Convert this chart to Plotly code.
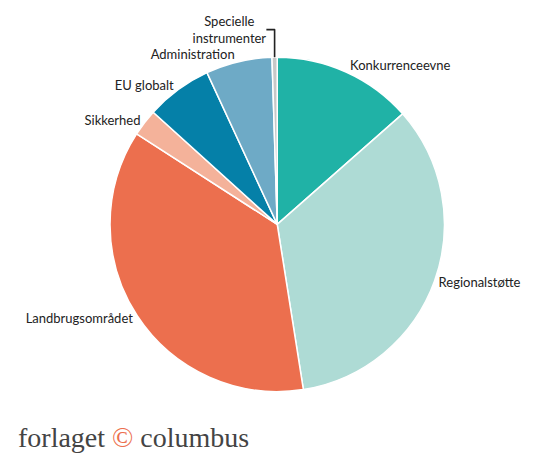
import plotly.graph_objects as go

labels = ["Konkurrenceevne", "Regionalstøtte", "Landbrugsområdet", "Sikkerhed",
          "EU globalt", "Administration", "Specielle<br>instrumenter"]
values = [13.5, 34.0, 36.6, 2.6, 6.4, 6.4, 0.5]
colors = ["#20b2a6", "#aedbd5", "#ec6f4e", "#f4b29a", "#0580a8", "#6eaac6", "#c8c8c8"]

fig = go.Figure(go.Pie(
    labels=labels, values=values, sort=False, direction="clockwise", rotation=0,
    marker=dict(colors=colors, line=dict(color="white", width=1.5)),
    textinfo="label", textposition="outside",
    textfont=dict(family="Lato", size=13, color="#222"),
    domain=dict(x=[0.175, 0.804], y=[0.16, 0.92]),
    hoverinfo="label+value",
))
fig.add_annotation(
    text="forlaget <span style='color:#ec6f4e'>©</span> columbus",
    x=0.015, y=0.015, xref="paper", yref="paper", xanchor="left", yanchor="bottom",
    showarrow=False, font=dict(family="Liberation Serif", size=28, color="#444"),
)
fig.update_layout(width=550, height=454, margin=dict(l=0, r=0, t=0, b=0),
                  showlegend=False, paper_bgcolor="white")
fig.write_html("out.html")
